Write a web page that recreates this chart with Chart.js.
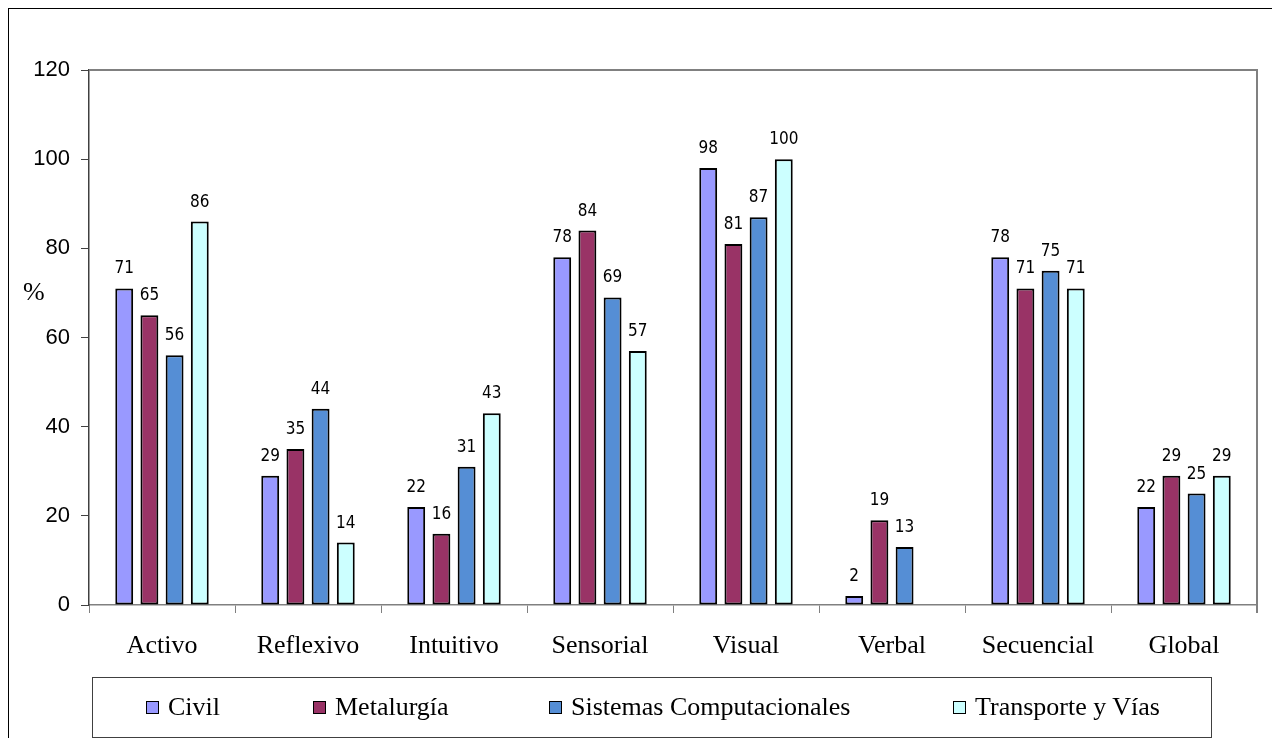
<!DOCTYPE html>
<html>
<head>
<meta charset="utf-8">
<script src="https://cdn.jsdelivr.net/npm/chart.js@4/dist/chart.umd.min.js"></script>
<style>
  body { margin: 0; background: #fff; }
  #wrap { position: relative; width: 1272px; height: 738px; overflow: hidden; }
  #frame { position: absolute; left: 8px; top: 8px; width: 1300px; height: 800px;
           border-left: 1.5px solid #000; border-top: 1.5px solid #000; }
  #pct { position: absolute; left: 23px; top: 277px; font: 26px "Liberation Serif"; line-height: 30px; }
  #legend { position: absolute; left: 92px; top: 677px; width: 1118px; height: 59px;
            border: 1px solid #404040; background: #fff; }
  .item { position: absolute; top: 14px; font: 26px "Liberation Serif"; line-height: 30px; white-space: nowrap; }
  .box { position: absolute; left: 0; top: 9px; width: 11px; height: 11px; border: 1.5px solid #000; }
  .item span.txt { position: absolute; left: 22px; top: 0; }
</style>
</head>
<body>
<div id="wrap">
  <canvas id="chart" width="1272" height="738"></canvas>
  <div id="frame"></div>
  <div id="pct">%</div>
  <div id="legend"></div>
</div>
<script>
const categories = ['Activo', 'Reflexivo', 'Intuitivo', 'Sensorial', 'Visual', 'Verbal', 'Secuencial', 'Global'];
const seriesNames = ['Civil', 'Metalurgía', 'Sistemas Computacionales', 'Transporte y Vías'];
const civil = [71, 29, 22, 78, 98, 2, 78, 22];
const metalurgia = [65, 35, 16, 84, 81, 19, 71, 29];
const sistemas = [56, 44, 31, 69, 87, 13, 75, 25];
const transporte = [86, 14, 43, 57, 100, null, 71, 29];
const yTicks = [0, 20, 40, 60, 80, 100, 120];

const colors = ['#9999FF', '#993366', '#558ED5', '#CCFFFF'];
const legendLeft = [53, 220, 456, 860];

// legend box (html, positioned like the original)
const legendEl = document.getElementById('legend');
seriesNames.forEach((name, i) => {
    const item = document.createElement('div');
    item.className = 'item';
    item.style.left = legendLeft[i] + 'px';
    item.innerHTML = '<div class="box" style="background:' + colors[i] + '"></div><span class="txt">' + name + '</span>';
    legendEl.appendChild(item);
});

const valueLabels = {
    id: 'valueLabels',
    afterDatasetsDraw(chart) {
        const ctx = chart.ctx;
        ctx.save();
        ctx.font = '17px "DejaVu Sans Condensed", "DejaVu Sans"';
        ctx.fillStyle = '#000';
        ctx.textAlign = 'center';
        ctx.textBaseline = 'alphabetic';
        chart.data.datasets.forEach((ds, di) => {
            chart.getDatasetMeta(di).data.forEach((bar, i) => {
                const v = ds.data[i];
                if (v === null || v === undefined) return;
                ctx.fillText(String(v), bar.x, bar.y - 15);
            });
        });
        ctx.restore();
    }
};

const plotBorder = {
    id: 'plotBorder',
    afterDraw(chart) {
        const a = chart.chartArea;
        const ctx = chart.ctx;
        ctx.save();
        ctx.strokeStyle = '#808080';
        ctx.lineWidth = 2;
        ctx.beginPath();
        ctx.moveTo(a.left, a.top);
        ctx.lineTo(a.right, a.top);
        ctx.lineTo(a.right, a.bottom + 8);
        ctx.stroke();
        ctx.restore();
    }
};

const ctx = document.getElementById('chart').getContext('2d');
const chart = new Chart(ctx, {
    type: 'bar',
    data: {
        labels: categories,
        datasets: [civil, metalurgia, sistemas, transporte].map((d, i) => ({
            label: seriesNames[i],
            data: d,
            backgroundColor: colors[i],
            borderColor: '#000',
            borderWidth: 2,
            borderSkipped: false,
            categoryPercentage: 0.69,
            barPercentage: 0.71
        }))
    },
    options: {
        responsive: false,
        animation: false,
        layout: { padding: { top: 70, right: 15, left: 0, bottom: 0 } },
        plugins: {
            legend: { display: false },
            tooltip: { enabled: false }
        },
        scales: {
            x: {
                grid: { drawOnChartArea: false, drawTicks: true, tickLength: 8, color: '#808080', offset: true },
                border: { color: '#808080', width: 1.5 },
                ticks: { color: '#000', padding: 18, font: { family: 'Liberation Serif', size: 26 } },
                afterFit(scale) { scale.height = 133; }
            },
            y: {
                min: 0,
                max: 120,
                afterBuildTicks(scale) { scale.ticks = yTicks.map(v => ({ value: v })); },
                grid: { drawOnChartArea: false, drawTicks: true, tickLength: 8, color: '#404040' },
                border: { color: '#404040', width: 1.5 },
                ticks: { color: '#000', padding: 11, font: { family: 'Liberation Sans', size: 22 } },
                afterFit(scale) { scale.width = 89; }
            }
        }
    },
    plugins: [valueLabels, plotBorder]
});
</script>
</body>
</html>
